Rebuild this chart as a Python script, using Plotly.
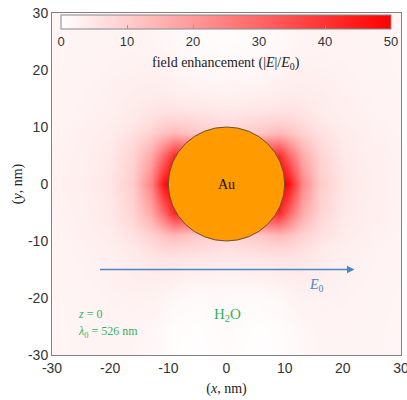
import plotly.graph_objects as go

# grid nodes (nm)
x_nodes = [-30, -25, -20, -16, -13, -11, -9, -5, 0, 5, 9, 11, 13, 16, 20, 25, 30]
y_nodes = [-30, -25, -20, -16, -13, -11, -9, -5, 0, 5, 9, 11, 13, 16, 20, 25, 30]

# field enhancement |E|/E0 estimated at the grid nodes (rows = y from -30 to 30)
field = [
    [2.0, 2.1, 2.2, 2.0, 1.4, 0.9, 0.5, 0.3, 0.7, 0.3, 0.5, 0.9, 1.4, 2.0, 2.2, 2.1, 2.0],
    [2.0, 2.1, 2.3, 2.2, 1.8, 1.2, 0.6, 0.4, 0.9, 0.4, 0.6, 1.2, 1.8, 2.2, 2.3, 2.1, 2.0],
    [2.0, 2.2, 2.5, 2.7, 2.6, 2.2, 1.6, 0.9, 1.3, 0.9, 1.6, 2.2, 2.6, 2.7, 2.5, 2.2, 2.0],
    [2.1, 2.4, 2.8, 3.4, 3.8, 3.8, 3.5, 3.0, 2.5, 3.0, 3.5, 3.8, 3.8, 3.4, 2.8, 2.4, 2.1],
    [2.2, 2.5, 3.0, 4.0, 5.0, 5.5, 5.5, 5.0, 4.5, 5.0, 5.5, 5.5, 5.0, 4.0, 3.0, 2.5, 2.2],
    [2.3, 2.6, 3.3, 4.5, 6.5, 8.0, 8.5, 7.5, 6.5, 7.5, 8.5, 8.0, 6.5, 4.5, 3.3, 2.6, 2.3],
    [2.4, 2.8, 3.8, 6.0, 9.0, 12, 14, 11, 8, 11, 14, 12, 9.0, 6.0, 3.8, 2.8, 2.4],
    [2.5, 3.0, 4.5, 8.5, 17, 29, 42, 40, 20, 40, 42, 29, 17, 8.5, 4.5, 3.0, 2.5],
    [2.5, 3.2, 5.0, 10, 24, 45, 55, 50, 40, 50, 55, 45, 24, 10, 5.0, 3.2, 2.5],
    [2.5, 3.0, 4.5, 8.5, 17, 29, 42, 40, 20, 40, 42, 29, 17, 8.5, 4.5, 3.0, 2.5],
    [2.4, 2.8, 3.8, 6.0, 9.0, 12, 14, 11, 8, 11, 14, 12, 9.0, 6.0, 3.8, 2.8, 2.4],
    [2.3, 2.6, 3.3, 4.5, 6.5, 8.0, 8.5, 7.5, 6.5, 7.5, 8.5, 8.0, 6.5, 4.5, 3.3, 2.6, 2.3],
    [2.2, 2.5, 3.0, 4.0, 5.0, 5.5, 5.5, 5.0, 4.5, 5.0, 5.5, 5.5, 5.0, 4.0, 3.0, 2.5, 2.2],
    [2.1, 2.4, 2.8, 3.4, 3.8, 3.8, 3.5, 3.0, 2.5, 3.0, 3.5, 3.8, 3.8, 3.4, 2.8, 2.4, 2.1],
    [2.0, 2.2, 2.5, 2.7, 2.8, 2.6, 2.2, 1.5, 1.2, 1.5, 2.2, 2.6, 2.8, 2.7, 2.5, 2.2, 2.0],
    [2.0, 2.1, 2.3, 2.3, 2.1, 1.8, 1.4, 0.8, 0.6, 0.8, 1.4, 1.8, 2.1, 2.3, 2.3, 2.1, 2.0],
    [2.0, 2.1, 2.2, 2.1, 1.9, 1.6, 1.2, 0.8, 0.8, 0.8, 1.2, 1.6, 1.9, 2.1, 2.2, 2.1, 2.0],
]

cbar_ticks = [0, 10, 20, 30, 40, 50]
axis_ticks = [-30, -20, -10, 0, 10, 20, 30]
axis_ticktext = ["-30", "-20", "-10", "0", "10", "20", "30"]
sphere_radius = 10
arrow_start = -22
arrow_end = 22
arrow_y = -15

sans = "Liberation Sans, Arial, sans-serif"
serif = "Liberation Serif, Times New Roman, serif"
green = "#35b060"
blue = "#4a86c8"

fig = go.Figure()
fig.add_trace(go.Heatmap(
    x=x_nodes, y=y_nodes, z=field,
    zmin=0, zmax=50, zsmooth="best",
    colorscale=[[0, "#FFFFFF"], [1, "#FF0000"]],
    colorbar=dict(
        orientation="h", x=0.4986, xanchor="center", len=0.9456, lenmode="fraction",
        y=1, yanchor="top", ypad=2, xpad=0, thickness=14, thicknessmode="pixels",
        outlinecolor="#888888", outlinewidth=1,
        tickvals=cbar_ticks, ticks="inside", ticklen=4, tickcolor="#999999",
        tickfont=dict(family=sans, size=13, color="#333333"),
        bgcolor="rgba(0,0,0,0)",
    ),
    hoverinfo="skip",
))

fig.add_shape(type="circle", xref="x", yref="y",
              x0=-sphere_radius, x1=sphere_radius, y0=-sphere_radius, y1=sphere_radius,
              fillcolor="#FF9A00", line=dict(color="#6a5038", width=1))

fig.add_annotation(x=arrow_end, y=arrow_y, ax=arrow_start, ay=arrow_y, axref="x", ayref="y",
                   xref="x", yref="y", text="", showarrow=True, arrowhead=2, arrowsize=1,
                   arrowwidth=1.5, arrowcolor=blue)

fig.add_annotation(x=0.4986, y=21.2, xref="paper", yref="y",
                   text="field enhancement (|<i>E</i>|/<i>E</i><sub>0</sub>)", showarrow=False,
                   font=dict(family=serif, size=14, color="#222222"))
fig.add_annotation(x=0, y=0, text="Au", showarrow=False,
                   font=dict(family=serif, size=14, color="#111111"))
fig.add_annotation(x=0.2, y=-23, text="H<sub>2</sub>O", showarrow=False,
                   font=dict(family=serif, size=15, color=green))
fig.add_annotation(x=-25.8, y=-22.8, text="<i>z</i> = 0", showarrow=False, xanchor="left",
                   font=dict(family=serif, size=12, color=green))
fig.add_annotation(x=-25.8, y=-26, text="<i>λ</i><sub>0</sub> = 526 nm", showarrow=False, xanchor="left",
                   font=dict(family=serif, size=12, color=green))
fig.add_annotation(x=15.5, y=-17.8, text="<i>E</i><sub>0</sub>", showarrow=False,
                   font=dict(family=serif, size=14, color=blue))

axis_common = dict(range=[-30, 30], tickvals=axis_ticks, ticktext=axis_ticktext,
                   showgrid=False, zeroline=False, ticklabeloverflow="allow", automargin=False,
                   showline=True, mirror=True, linecolor="#808080", linewidth=1, ticks="",
                   tickfont=dict(family=sans, size=14, color="#333333"))

fig.update_layout(
    width=407, height=400,
    margin=dict(l=52, r=6, t=13, b=45, autoexpand=False),
    paper_bgcolor="white", plot_bgcolor="white",
    xaxis=dict(**axis_common, title=dict(text="(<i>x</i>, nm)", standoff=8,
                                         font=dict(family=serif, size=14, color="#222222"))),
    yaxis=dict(**axis_common, title=dict(text="(<i>y</i>, nm)", standoff=2,
                                         font=dict(family=serif, size=14, color="#222222"))),
    showlegend=False,
)

fig.write_html("out.html")
